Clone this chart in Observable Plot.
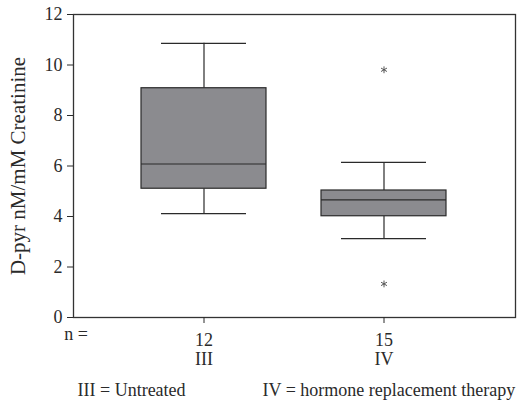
<!DOCTYPE html>
<html>
<head>
<meta charset="utf-8">
<script src="https://cdn.jsdelivr.net/npm/d3@7"></script>
<script src="https://cdn.jsdelivr.net/npm/@observablehq/plot@0.6"></script>
<style>
  html, body { margin: 0; padding: 0; background: #fff; }
  svg text { font-family: "Liberation Serif", "Times New Roman", serif; }
</style>
</head>
<body>
<div id="chart"></div>
<script>
const groups = ["III", "IV"];
const counts = [12, 15];
const lowerWhisker = [4.11, 3.12];
const q1 = [5.10, 4.01];
const median = [6.08, 4.66];
const q3 = [9.08, 5.03];
const upperWhisker = [10.86, 6.14];
const outlierGroups = ["IV", "IV"];
const outlierValues = [9.81, 1.33];
const yTicks = [0, 2, 4, 6, 8, 10, 12];
const yLabel = "D-pyr nM/mM Creatinine";
const nLabel = "n =";
const legendTexts = ["III = Untreated", "IV = hormone replacement therapy"];

const boxes = groups.map((g, i) => ({
  group: g, n: counts[i], lo: lowerWhisker[i], q1: q1[i], med: median[i], q3: q3[i], hi: upperWhisker[i]
}));
const outliers = outlierGroups.map((g, i) => ({group: g, value: outlierValues[i]}));

const ink = "#2a2a2a";
const serif = "Liberation Serif";
const chart = Plot.plot({
  width: 523,
  height: 405,
  marginTop: 14,
  marginLeft: 73,
  marginRight: 8,
  marginBottom: 88,
  style: {fontFamily: serif, fontSize: "18px", color: ink, background: "#fff"},
  x: {domain: groups, paddingInner: 0.304, paddingOuter: 0.373, label: null},
  y: {domain: [0, 12], label: null},
  marks: [
    Plot.ruleX(boxes, {x: "group", y1: "lo", y2: "q1", stroke: ink, strokeWidth: 1.2}),
    Plot.ruleX(boxes, {x: "group", y1: "q3", y2: "hi", stroke: ink, strokeWidth: 1.2}),
    Plot.tickY(boxes, {x: "group", y: "lo", stroke: ink, strokeWidth: 1.2, insetLeft: 20, insetRight: 20}),
    Plot.tickY(boxes, {x: "group", y: "hi", stroke: ink, strokeWidth: 1.2, insetLeft: 20, insetRight: 20}),
    Plot.barY(boxes, {x: "group", y1: "q1", y2: "q3", fill: "#8b8b8f", stroke: ink, strokeWidth: 1.2}),
    Plot.tickY(boxes, {x: "group", y: "med", stroke: ink, strokeWidth: 1.2}),
    Plot.dot(outliers, {x: "group", y: "value", symbol: "asterisk", r: 3.2, stroke: "#555", strokeWidth: 1}),
    Plot.frame({stroke: "#333", strokeWidth: 1.3}),
    Plot.axisY({ticks: yTicks, tickSize: 6, tickPadding: 5, fontSize: 18, fontFamily: serif, stroke: ink, fill: ink, label: null}),
    Plot.axisX({tickSize: 6, tickPadding: 9, fontSize: 18, fontFamily: serif, fill: ink, stroke: ink, label: null, lineHeight: 1.05,
      tickFormat: (d) => counts[groups.indexOf(d)] + "\n" + d}),
    Plot.text([yLabel], {frameAnchor: "left", textAnchor: "middle", rotate: -90, dx: -55, fontSize: 21, fontFamily: serif, fill: ink}),
    Plot.text([nLabel], {frameAnchor: "bottom-left", dx: 2.5, dy: 17, textAnchor: "middle", lineAnchor: "middle", fontSize: 18, fontFamily: serif, fill: ink}),
    Plot.text([legendTexts[0]], {frameAnchor: "bottom-left", dx: 4, dy: 73, textAnchor: "start", lineAnchor: "middle", fontSize: 18, fontFamily: serif, fill: ink}),
    Plot.text([legendTexts[1]], {frameAnchor: "bottom-left", dx: 189, dy: 73, textAnchor: "start", lineAnchor: "middle", fontSize: 18, fontFamily: serif, fill: ink})
  ]
});
document.getElementById("chart").appendChild(chart);
</script>
</body>
</html>
